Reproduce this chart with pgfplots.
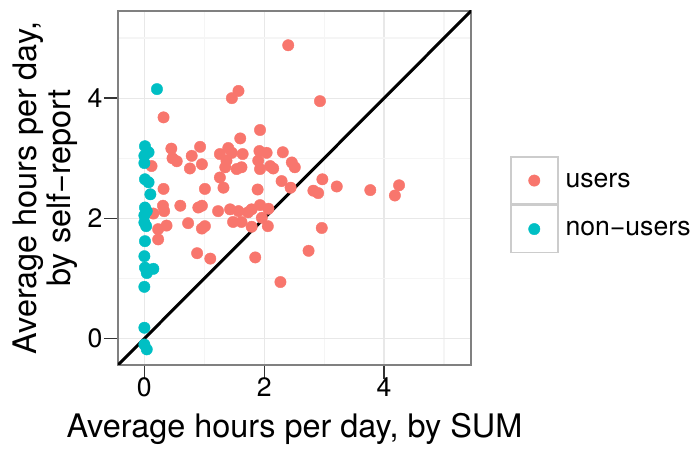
\documentclass[border=0pt]{standalone}
\usepackage{fontspec}
\setmainfont{TeX Gyre Heros}
\usepackage{pgfplots}
\pgfplotsset{compat=1.18}
\definecolor{users}{HTML}{F8766D}
\definecolor{nonusers}{HTML}{00BFC4}

% self-report vs. SUM hours
\pgfplotstableread{
x y
2.40 4.88
1.57 4.12
1.46 4.00
2.93 3.95
0.32 3.68
1.93 3.47
1.60 3.33
0.45 3.16
0.93 3.19
1.40 3.17
1.46 3.09
1.64 3.07
1.92 3.12
2.04 3.09
2.31 3.10
0.79 3.04
1.26 3.07
0.54 2.95
0.47 3.00
0.96 2.90
0.76 2.83
0.12 2.87
1.37 2.96
1.35 2.85
1.54 2.82
1.62 2.85
1.90 2.96
1.93 2.82
2.10 2.87
2.15 2.83
2.46 2.93
2.51 2.85
1.26 2.68
2.29 2.62
2.97 2.65
0.32 2.49
1.01 2.49
1.32 2.51
1.89 2.48
2.44 2.51
2.82 2.46
2.90 2.42
3.21 2.53
3.77 2.47
4.25 2.55
4.18 2.38
0.31 2.21
0.33 2.12
0.60 2.21
0.90 2.18
0.96 2.21
1.23 2.12
1.43 2.15
1.57 2.12
1.73 2.10
1.79 2.15
1.93 2.22
2.07 2.16
0.15 2.08
1.48 1.94
1.62 1.94
1.96 2.01
1.79 1.86
2.06 1.87
0.73 1.92
0.96 1.83
1.01 1.87
0.23 1.82
0.37 1.88
0.23 1.65
0.88 1.42
1.10 1.33
1.85 1.35
2.27 0.94
2.74 1.46
2.96 1.84
}\users

\pgfplotstableread{
x y
0.21 4.15
0.01 3.20
0.07 3.10
0.00 3.04
0.00 2.92
0.01 2.65
0.07 2.60
0.10 2.40
0.01 2.18
0.04 2.12
0.00 2.05
0.00 1.93
0.03 1.87
0.01 1.62
0.00 1.37
0.01 1.18
0.15 1.16
0.04 1.09
0.00 0.86
0.00 0.18
0.00 -0.10
0.04 -0.18
}\nonusers

\begin{document}
\begin{tikzpicture}
\begin{axis}[
  name=ax,
  scale only axis,
  width=353pt, height=354pt,
  xmin=-0.44, xmax=5.45, ymin=-0.44, ymax=5.45,
  xtick={0,2,4}, ytick={0,2,4},
  minor xtick={1,3,5}, minor ytick={1,3,5},
  grid=both,
  major grid style={draw=black!9, line width=1.2pt},
  minor grid style={draw=black!4, line width=1.2pt},
  minor tick length=0pt,
  major tick length=14pt,
  tick align=outside,
  tick pos=left,
  tick style={draw=black!80, line width=1.3pt},
  axis line style={draw=black!50, line width=1.5pt},
  ticklabel style={font=\fontsize{26.6}{30}\selectfont},
  xticklabel style={yshift=5pt},
  yticklabel style={xshift=2pt},
  /pgf/number format/assume math mode=true,
  xlabel={Average hours per day, by SUM},
  xlabel style={at={(axis description cs:0.5,0)}, anchor=base, yshift=-73pt,
    font=\fontsize{32.4}{36}\selectfont},
  ylabel={Average hours per day,\\by self−report},
  ylabel style={at={(axis description cs:-0.207,0.5)}, anchor=center,
    align=center, font=\fontsize{32.4}{34}\selectfont},
  legend style={at={(axis description cs:1.11,0.59)}, anchor=north west,
    draw=none, fill=none, inner sep=0pt, row sep=0pt, column sep=7pt,
    nodes={inner sep=0pt},
    font=\fontsize{26.6}{30}\selectfont},
  legend cell align=left,
  legend image code/.code={
    \draw[draw=black!20, fill=white, line width=1.5pt] (0pt,-23.5pt) rectangle (47pt,23.5pt);
    \draw[mark repeat=2, mark phase=2] plot coordinates {(0pt,0pt)(23.5pt,0pt)(47pt,0pt)};
  },
]
\addplot[only marks, mark=*, mark size=5.7pt, color=users] table {\users};
\addplot[only marks, mark=*, mark size=5.7pt, color=nonusers] table {\nonusers};
\addplot[black, line width=3pt, no marks, forget plot] coordinates {(-1,-1) (6,6)};
\legend{users, non−users}
\end{axis}
\path ([shift={(-118pt,-81pt)}]ax.south west) rectangle ++(694pt,446pt);
\end{tikzpicture}
\end{document}
